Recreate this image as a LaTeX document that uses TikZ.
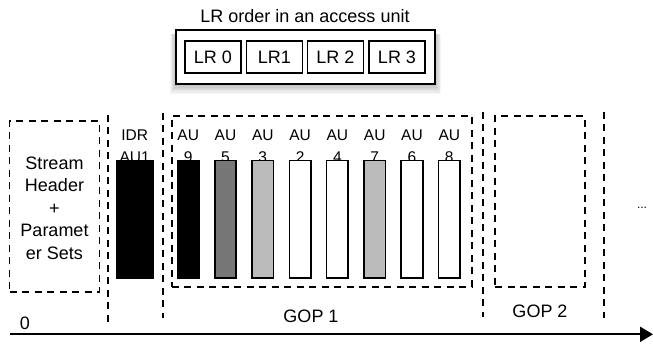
\documentclass[tikz,border=0pt]{standalone}
\usepackage{fontspec}
\setmainfont{Liberation Sans}
\usetikzlibrary{arrows.meta}
\definecolor{darkbar}{HTML}{777777}
\definecolor{lightbar}{HTML}{BBBBBB}
\begin{document}
\begin{tikzpicture}[x=1pt,y=-1pt,
  dashbox/.style={draw, line width=1.8pt, dash pattern=on 7pt off 5.5pt, inner sep=0pt},
  dashline/.style={line width=1.8pt, dash pattern=on 7pt off 5.5pt},
  aubar/.style={draw, line width=1.6pt, minimum width=21.5pt, minimum height=117.3pt, inner sep=0pt},
  lrbox/.style={draw, line width=1.4pt, minimum width=56pt, minimum height=32pt, inner sep=0pt, font=\fontsize{18}{20}\selectfont},
  lbl/.style={inner sep=0pt, font=\fontsize{15.5}{17}\selectfont},
  big/.style={inner sep=0pt, font=\fontsize{18}{20}\selectfont}]
\useasboundingbox (0,0) rectangle (653,344);

% title and LR order box
\node[big] (title) at (305,16) {LR order in an access unit};
\foreach \i in {1,...,7}{
  \fill[black, opacity=0.035] (176-\i*0.9, 34) rectangle (435+\i*0.9, 85+\i*1.3);
}
\node[draw, fill=white, line width=1.6pt, minimum width=259pt, minimum height=54pt, inner sep=0pt] (lrorder) at (305.5,57.2) {};
\node[lrbox] (lr0) at (212.8,57.2) {LR 0};
\node[lrbox] (lr1) at (274.3,57.2) {LR1};
\node[lrbox] (lr2) at (335.3,57.2) {LR 2};
\node[lrbox] (lr3) at (397,57.2) {LR 3};

% stream header box
\node[dashbox, minimum width=90pt, minimum height=171pt] (hdr) at (54.5,206.2) {};
\node[big, align=center, font=\fontsize{18}{22.5}\selectfont] (hdrtext) at (54.5,208) {Stream\\Header\\+\\Paramet\\er Sets};

% vertical separators
\coordinate (s1t) at (107.7,115);   \coordinate (s1b) at (107.7,323);
\coordinate (s2t) at (163.3,112.7); \coordinate (s2b) at (163.3,318);
\coordinate (s3t) at (483.3,112);   \coordinate (s3b) at (483.3,317);
\coordinate (s4t) at (604,112);     \coordinate (s4b) at (604,318);
\draw[dashline] (s1t) -- (s1b);
\draw[dashline] (s2t) -- (s2b);
\draw[dashline] (s3t) -- (s3b);
\draw[dashline] (s4t) -- (s4b);

% GOP boxes
\node[dashbox, minimum width=300pt, minimum height=171pt] (gop1box) at (321.7,201.2) {};
\node[dashbox, minimum width=90pt, minimum height=170.7pt] (gop2box) at (540,201.3) {};

% IDR access unit
\node[lbl] (idr) at (134.7,135) {IDR};
\node[lbl] (idrn) at (134.7,157.5) {AU1};
\node[aubar, fill=black, minimum width=36pt] (idrbar) at (134.7,219.35) {};

% access units of GOP 1
\foreach \k/\n/\c [count=\j from 0] in {a/9/black, b/5/darkbar, c/3/lightbar, d/2/white, e/4/white, f/7/lightbar, g/6/white, h/8/white}{
  \node[lbl] (au\k) at (188.2+37.3*\j,135) {AU};
  \node[lbl] (num\k) at (188.2+37.3*\j,157.5) {\n};
  \node[aubar, fill=\c] (bar\k) at (188.2+37.3*\j,219.35) {};
}

% labels
\node[big] (gop1) at (311,316.7) {GOP 1};
\node[big] (gop2) at (540,311.7) {GOP 2};
\node[big] (zero) at (25,323) {0};
\node[inner sep=0pt, font=\fontsize{12}{14}\selectfont] (dots) at (642,208) {...};

% time axis
\coordinate (tstart) at (10,334.3);
\coordinate (tend) at (653,334.3);
\draw[line width=2.2pt, -{Triangle[length=13pt,width=15pt]}] (tstart) -- (tend);
\end{tikzpicture}
\end{document}
